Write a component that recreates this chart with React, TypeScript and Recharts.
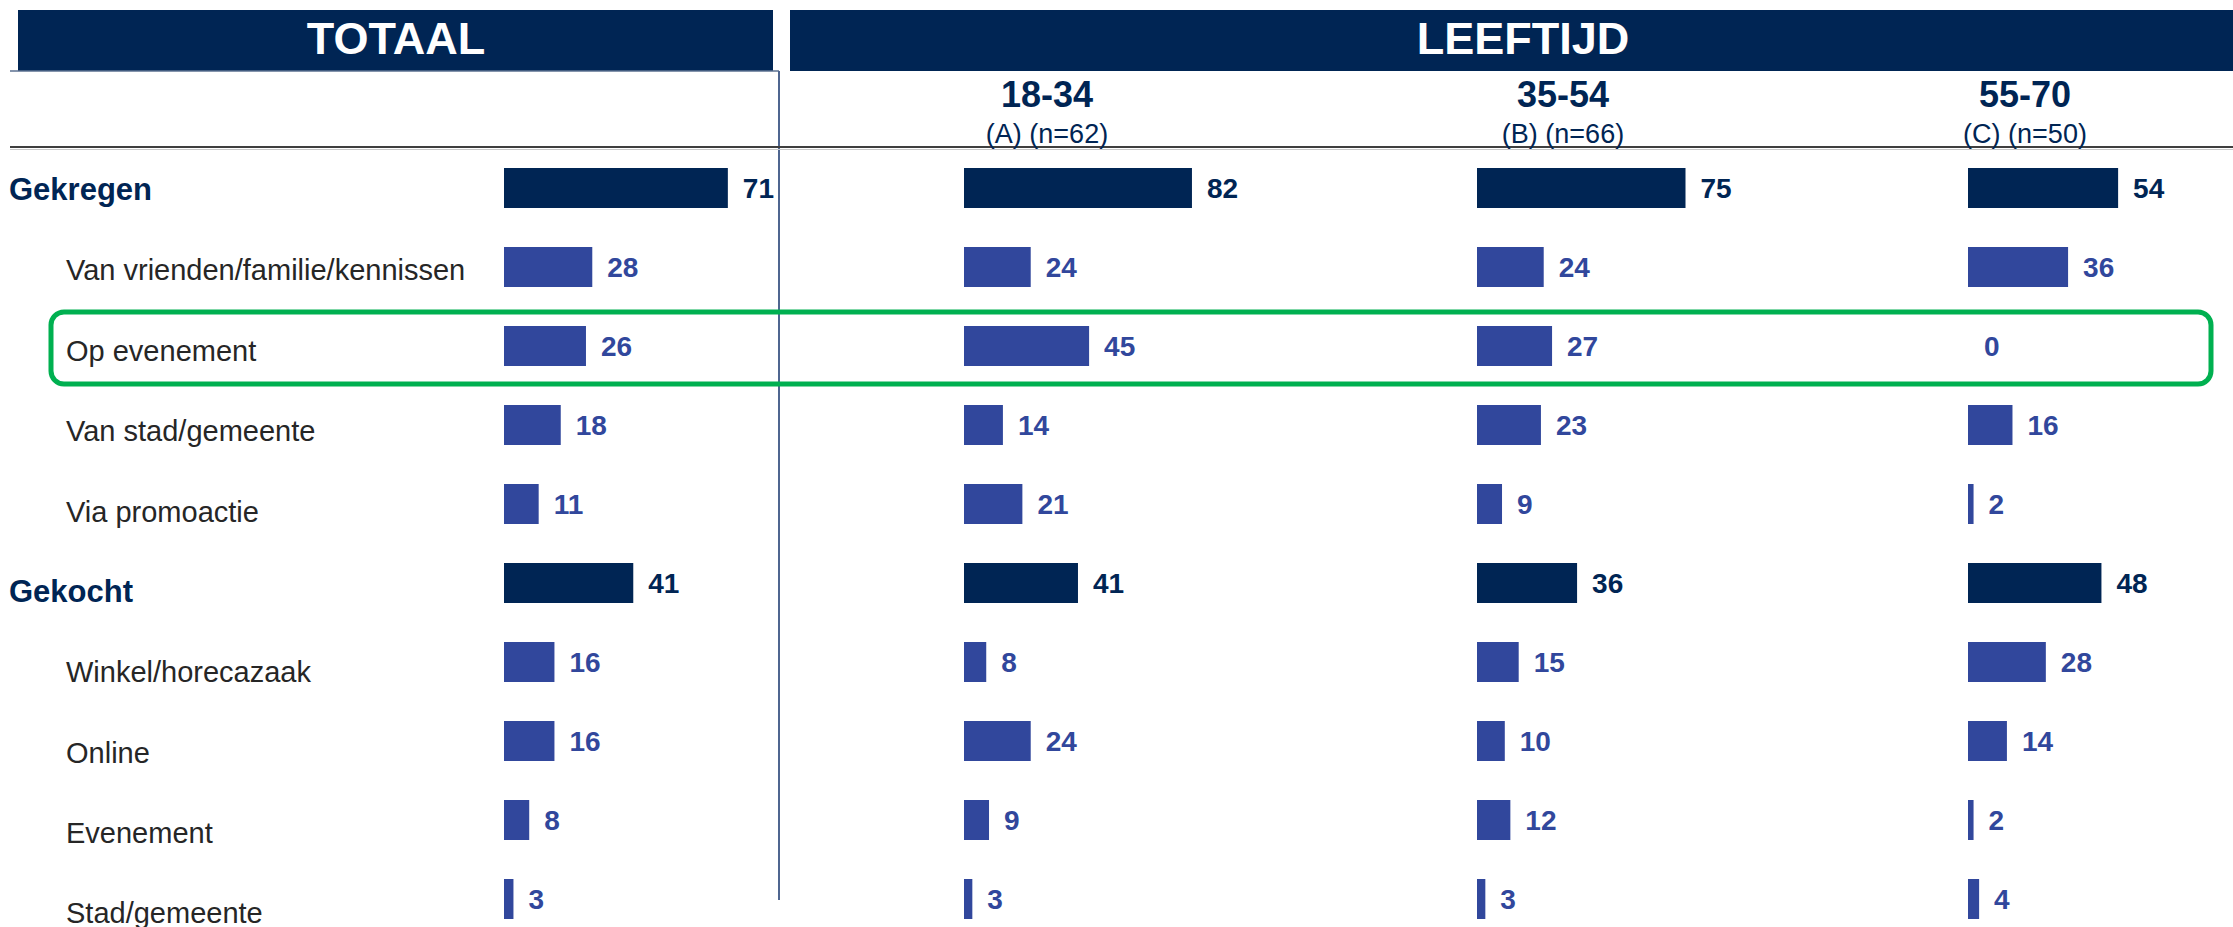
import { BarChart, Bar, XAxis, YAxis, Cell, LabelList } from "recharts";

const FONT = '"Liberation Sans", Arial, Helvetica, sans-serif';
const NAVY = "#002554";
const BLUE = "#31479C";
const LABEL_GRAY = "#262626";

// rows, top to bottom
const categories = [
  "Gekregen",
  "Van vrienden/familie/kennissen",
  "Op evenement",
  "Van stad/gemeente",
  "Via promoactie",
  "Gekocht",
  "Winkel/horecazaak",
  "Online",
  "Evenement",
  "Stad/gemeente",
];
const headerRows = ["Gekregen", "Gekocht"];

const totaalValues = [71, 28, 26, 18, 11, 41, 16, 16, 8, 3];
const age1834Values = [82, 24, 45, 14, 21, 41, 8, 24, 9, 3];
const age3554Values = [75, 24, 27, 23, 9, 36, 15, 10, 12, 3];
const age5570Values = [54, 36, 0, 16, 2, 48, 28, 14, 2, 4];

const ageLabels = ["18-34", "35-54", "55-70"];
const ageBases = ["(A) (n=62)", "(B) (n=66)", "(C) (n=50)"];

type Row = { name: string; value: number; header: boolean };

function buildRows(values: number[]): Row[] {
  return categories.map((name, i) => ({ name, value: values[i], header: headerRows.includes(name) }));
}

// label value carries the row type so the colour does not depend on the index
const labelKey = (row: Row) => `${row.header ? "h" : "s"}|${row.value}`;

function ValueLabel(props: any) {
  const { x, y, width, height, value } = props;
  const [kind, text] = String(value ?? "").split("|");
  return (
    <text
      x={Number(x) + Number(width) + 15}
      y={Number(y) + Number(height) / 2 + 10}
      fill={kind === "h" ? NAVY : BLUE}
      fontSize={28}
      fontWeight={700}
      fontFamily={FONT}
    >
      {text}
    </text>
  );
}

function CategoryTick(props: any) {
  const { y, payload } = props;
  const name = String(payload?.value ?? "");
  const index = categories.indexOf(name);
  const header = headerRows.includes(name);
  return (
    <text
      x={header ? 9 : 66}
      y={Number(y) + 12.5 + 1.38 * index}
      fill={header ? NAVY : LABEL_GRAY}
      fontSize={header ? 31 : 29}
      fontWeight={header ? 700 : 400}
      fontFamily={FONT}
    >
      {name}
    </text>
  );
}

type ColumnProps = {
  values: number[];
  left: number;
  axisWidth: number;
  plotWidth: number;
  max: number;
  withLabels?: boolean;
};

function Column({ values, left, axisWidth, plotWidth, max, withLabels }: ColumnProps) {
  const rows = buildRows(values);
  const rightMargin = 70;
  return (
    <div style={{ position: "absolute", left, top: 148 }}>
      <BarChart
        width={axisWidth + plotWidth + rightMargin}
        height={790}
        data={rows}
        layout="vertical"
        margin={{ top: 0, right: rightMargin, left: 0, bottom: 0 }}
      >
        <XAxis type="number" domain={[0, max]} hide />
        <YAxis
          type="category"
          dataKey="name"
          width={axisWidth}
          hide={!withLabels}
          axisLine={false}
          tickLine={false}
          interval={0}
          tick={<CategoryTick />}
        />
        <Bar dataKey="value" barSize={40} minPointSize={1} isAnimationActive={false}>
          {rows.map((row) => (
            <Cell
              key={row.name}
              fill={row.header ? NAVY : BLUE}
              fillOpacity={row.value === 0 ? 0 : 1}
            />
          ))}
          <LabelList dataKey={labelKey} content={<ValueLabel />} />
        </Bar>
      </BarChart>
    </div>
  );
}

const ageLeft = [964, 1477, 1968];
const ageCenter = [1047, 1563, 2025];
const ageValues = [age1834Values, age3554Values, age5570Values];

export default function App() {
  return (
    <div
      style={{
        position: "absolute",
        left: 0,
        top: 0,
        width: 2233,
        height: 927,
        overflow: "hidden",
        background: "#fff",
        fontFamily: FONT,
      }}
    >
      <svg width={2233} height={927} style={{ position: "absolute", left: 0, top: 0 }}>
        <rect x={18} y={10} width={755} height={61} fill={NAVY} />
        <rect x={790} y={10} width={1443} height={61} fill={NAVY} />
        <text x={396} y={54} textAnchor="middle" fill="#fff" fontSize={45} fontWeight={700} fontFamily={FONT}>
          TOTAAL
        </text>
        <text x={1523} y={54} textAnchor="middle" fill="#fff" fontSize={45} fontWeight={700} fontFamily={FONT}>
          LEEFTIJD
        </text>
        <line x1={10} y1={71} x2={779} y2={71} stroke="#5B7090" strokeWidth={1.5} />
        <line x1={779} y1={71} x2={779} y2={900} stroke="#4F6690" strokeWidth={2} />
        <line x1={10} y1={147} x2={2233} y2={147} stroke="#3F3F3F" strokeWidth={2} />
        <line x1={10} y1={149.5} x2={2233} y2={149.5} stroke="#C8C8C8" strokeWidth={1} />
        {ageLabels.map((label, i) => (
          <g key={label}>
            <text x={ageCenter[i]} y={107} textAnchor="middle" fill={NAVY} fontSize={36} fontWeight={700} fontFamily={FONT}>
              {label}
            </text>
            <text x={ageCenter[i]} y={143} textAnchor="middle" fill={NAVY} fontSize={27} fontFamily={FONT}>
              {ageBases[i]}
            </text>
          </g>
        ))}
      </svg>

      <Column values={totaalValues} left={0} axisWidth={504} plotWidth={268} max={85} withLabels />
      {ageValues.map((values, i) => (
        <Column key={ageLabels[i]} values={values} left={ageLeft[i]} axisWidth={0} plotWidth={278} max={100} />
      ))}

      <svg width={2233} height={927} style={{ position: "absolute", left: 0, top: 0, pointerEvents: "none" }}>
        <rect x={51} y={312} width={2160} height={72} rx={13} fill="none" stroke="#00B050" strokeWidth={5} />
      </svg>
    </div>
  );
}
